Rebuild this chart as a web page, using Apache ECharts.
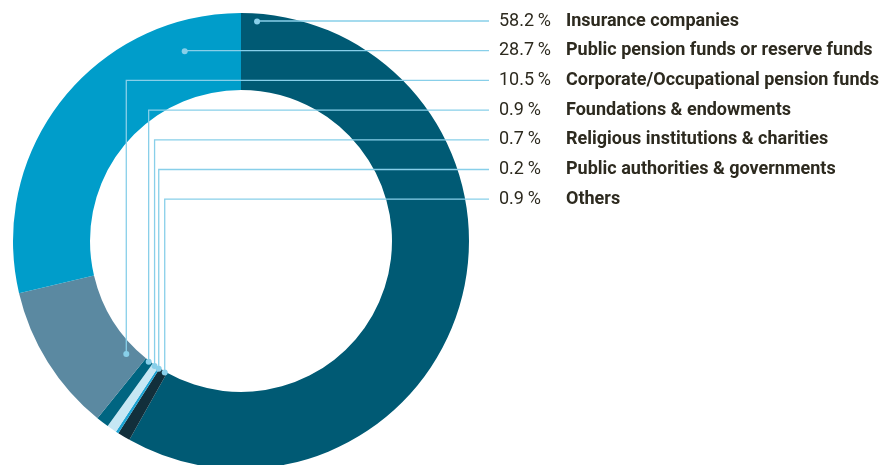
<!DOCTYPE html>
<html>
<head>
<meta charset="utf-8">
<script src="https://cdn.jsdelivr.net/npm/echarts@6/dist/echarts.min.js"></script>
<style>
  html, body { margin: 0; padding: 0; background: #fff; }
  #chart { width: 889px; height: 465px; }
</style>
</head>
<body>
<div id="chart"></div>
<script>
var chart = echarts.init(document.getElementById('chart'));

// legend order (top to bottom)
var names = ['Insurance companies', 'Public pension funds or reserve funds', 'Corporate/Occupational pension funds',
  'Foundations & endowments', 'Religious institutions & charities', 'Public authorities & governments', 'Others'];
var values = [58.2, 28.7, 10.5, 0.9, 0.7, 0.2, 0.9];
var colors = ['#005a74', '#009dca', '#5b89a1', '#006581', '#c6e7f4', '#1ba3d3', '#122f3b'];

// where the leader line starts: share along the slice and radius in px
var anchorFrac = [0.02, 0.84, 0.17, 0.5, 0.55, 0.3, 0.25];
var anchorRad = [220, 198, 161, 152, 152, 152, 152];

var cx = 241, cy = 241, rIn = 151, rOut = 228;
var rowTop = 21, rowStep = 29.7, lineEnd = 489, textX = 499;
var lineColor = '#88cfe9';
var font = 'Roboto';

// slices clockwise from 12 o'clock: insurance, then the rest bottom-up
var pieOrder = [0, 6, 5, 4, 3, 2, 1];
var total = values.reduce(function (a, b) { return a + b; }, 0);

function anchorOf(i) {
  var start = 0;
  for (var k = 0; k < pieOrder.length; k++) {
    var idx = pieOrder[k];
    if (idx === i) break;
    start += values[idx];
  }
  var ang = (start + anchorFrac[i] * values[i]) / total * 2 * Math.PI;
  return [cx + anchorRad[i] * Math.sin(ang), cy - anchorRad[i] * Math.cos(ang)];
}

var pieData = pieOrder.map(function (i) {
  return { name: names[i], value: values[i], itemStyle: { color: colors[i] } };
});

// leader lines + dots on top of the ring
var leaders = [];
names.forEach(function (n, i) {
  var p = anchorOf(i);
  var y = rowTop + i * rowStep;
  leaders.push({
    type: 'polyline', z: 100,
    shape: { points: [[p[0], p[1]], [p[0], y], [lineEnd, y]] },
    style: { stroke: lineColor, lineWidth: 1.3, fill: null }
  });
  leaders.push({
    type: 'circle', z: 101,
    shape: { cx: p[0], cy: p[1], r: 3 },
    style: { fill: lineColor }
  });
});

var option = {
  backgroundColor: '#fff',
  animation: false,
  graphic: leaders,
  series: [{
    type: 'pie',
    center: [cx, cy],
    radius: [rIn, rOut],
    startAngle: 90,
    clockwise: true,
    avoidLabelOverlap: false,
    silent: true,
    data: pieData,
    label: {
      show: true,
      position: 'outside',
      formatter: function (p) {
        return '{p|' + p.value.toFixed(1) + '\u2009%}{n|' + p.name + '}';
      },
      rich: {
        p: { width: 67, fontFamily: font, fontSize: 18, color: '#2d2a1f' },
        n: { fontFamily: font, fontSize: 18, fontWeight: 'bold', color: '#2d2a1f' }
      }
    },
    labelLine: { show: false },
    labelLayout: function (params) {
      var i = pieOrder[params.dataIndex];
      return {
        x: textX,
        y: rowTop + i * rowStep,
        align: 'left',
        verticalAlign: 'middle'
      };
    }
  }]
};
chart.setOption(option);
</script>
</body>
</html>
